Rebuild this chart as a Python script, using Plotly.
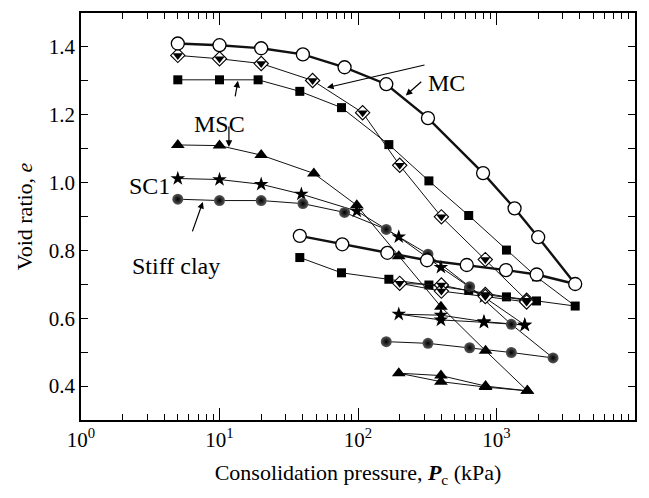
import plotly.graph_objects as go

# ---------------- data ----------------
# MC: open circles, loading then unloading
mc_p = [5, 10, 20, 40, 80, 160, 320, 800, 1350, 2000, 3700,
        1950, 1170, 610, 315, 163, 77, 38]
mc_e = [1.410, 1.405, 1.396, 1.378, 1.340, 1.290, 1.190, 1.028, 0.924, 0.839, 0.701,
        0.729, 0.742, 0.757, 0.771, 0.793, 0.818, 0.843]

# filled squares, loading then unloading
sq_p = [5, 10, 19, 38, 76, 167, 325, 630, 1180, 1945, 3700,
        1945, 1180, 630, 325, 167, 76, 38]
sq_e = [1.303, 1.303, 1.303, 1.269, 1.221, 1.112, 1.005, 0.903, 0.801, 0.722, 0.636,
        0.651, 0.663, 0.682, 0.698, 0.715, 0.734, 0.779]

# half-filled diamonds, loading then unload/reload loop
dm_p = [5, 10, 20, 47, 108, 200, 400, 830, 1650,
        830, 400, 200, 400, 830, 1650]
dm_e = [1.375, 1.365, 1.351, 1.301, 1.206, 1.051, 0.899, 0.773, 0.653,
        0.670, 0.698, 0.703, 0.680, 0.664, 0.648]

# MSC: filled triangles
tr_p = [5, 10, 20, 48, 98, 197, 397, 834, 1670,
        834, 397, 197, 397, 834, 1670]
tr_e = [1.111, 1.109, 1.081, 1.027, 0.933, 0.783, 0.634, 0.504, 0.386,
        0.400, 0.431, 0.438, 0.413, 0.397, 0.386]

# SC1: stars
st_p = [5, 10, 20, 39, 98, 197, 397, 812, 1600,
        812, 397, 197, 397, 812, 1600]
st_e = [1.012, 1.009, 0.995, 0.966, 0.916, 0.840, 0.750, 0.663, 0.580,
        0.590, 0.609, 0.612, 0.595, 0.588, 0.580]

# Stiff clay: shaded balls
sc_p = [5, 10, 20, 40, 80, 160, 320, 640, 1280, 2560,
        1280, 640, 320, 160]
sc_e = [0.951, 0.947, 0.947, 0.938, 0.912, 0.862, 0.789, 0.693, 0.582, 0.483,
        0.499, 0.513, 0.526, 0.531]

x_tickvals = [1, 10, 100, 1000, 10000]
x_ticktext = ["10<sup>0</sup>", "10<sup>1</sup>", "10<sup>2</sup>", "10<sup>3</sup>", "10<sup>4</sup>"]

FONT = "Liberation Serif, Times New Roman, serif"
LINE = "#111111"

fig = go.Figure()

def add(p, e, symbol, size, color="black", lw=1.0, mline=0, gradient=None):
    marker = dict(symbol=symbol, size=size, color=color,
                  line=dict(color="black", width=mline))
    if gradient:
        marker["gradient"] = gradient
    fig.add_trace(go.Scatter(x=p, y=e, mode="lines+markers",
                             line=dict(color=LINE, width=lw),
                             marker=marker, showlegend=False, hoverinfo="skip"))

add(sq_p, sq_e, "square", 9)
add(st_p, st_e, "star", 11)
add(tr_p, tr_e, "triangle-up", 12)
add(sc_p, sc_e, "circle", 11, color="#5a5a5a",
    gradient=dict(type="radial", color="black"))
# diamonds: open diamond with a filled lower part
add(dm_p, dm_e, "diamond", 11, color="white", mline=1.1)
fig.add_trace(go.Scatter(x=dm_p, y=dm_e, mode="markers",
                         marker=dict(symbol="triangle-down", size=9, color="black"),
                         showlegend=False, hoverinfo="skip"))
add(mc_p, mc_e, "circle", 13, color="white", lw=2.4, mline=1.3)

# ---------------- annotations ----------------
afont = dict(family=FONT, size=24, color="black")
texts = [("MC", 2.641, 1.293), ("MSC", 1.0, 1.172), ("SC1", 0.495, 0.989),
         ("Stiff clay", 0.683, 0.754)]
for t, xx, yy in texts:
    fig.add_annotation(x=xx, y=yy, xref="x", yref="y", text=t, showarrow=False,
                       font=afont, xanchor="center", yanchor="middle")

arrows = [(2.345, 1.257, 17, -15), (1.776, 1.280, 99, -23),
          (1.133, 1.300, -3, 17), (1.068, 1.105, 0, -22),
          (0.880, 0.943, -11, 31)]
for xx, yy, axp, ayp in arrows:
    fig.add_annotation(x=xx, y=yy, xref="x", yref="y", ax=axp, ay=ayp,
                       text="", showarrow=True, arrowhead=2, arrowsize=1.1,
                       arrowwidth=1.2, arrowcolor="black", standoff=0)

axis_common = dict(showline=True, linecolor="black", linewidth=1.5, mirror="allticks",
                   ticks="inside", tickcolor="black", showgrid=False, zeroline=False,
                   tickfont=dict(family=FONT, size=21, color="black"))

fig.update_xaxes(type="log", range=[0, 4], tickmode="array", tickvals=x_tickvals,
                 ticktext=x_ticktext, ticklen=12, tickwidth=1.2,
                 minor=dict(ticks="inside", ticklen=6, tickcolor="black", tickwidth=1.2,
                            tickvals=[m * 10 ** k for k in range(4) for m in range(2, 10)]),
                 title=dict(text="Consolidation pressure, <b><i>P</i></b><sub>c</sub> (kPa)",
                            font=dict(family=FONT, size=22, color="black"), standoff=14),
                 **axis_common)
fig.update_yaxes(range=[0.3, 1.5], tick0=0, dtick=0.2, tickformat=".1f",
                 ticklen=7, tickwidth=1.2,
                 minor=dict(ticks="inside", ticklen=7, tickcolor="black", tickwidth=1.2, dtick=0.1),
                 title=dict(text="Void ratio, <i>e</i>",
                            font=dict(family=FONT, size=22, color="black"), standoff=10),
                 **axis_common)

fig.update_layout(width=649, height=498, margin=dict(l=81, r=14, t=13, b=78),
                  plot_bgcolor="white", paper_bgcolor="white")

fig.write_html("out.html")
